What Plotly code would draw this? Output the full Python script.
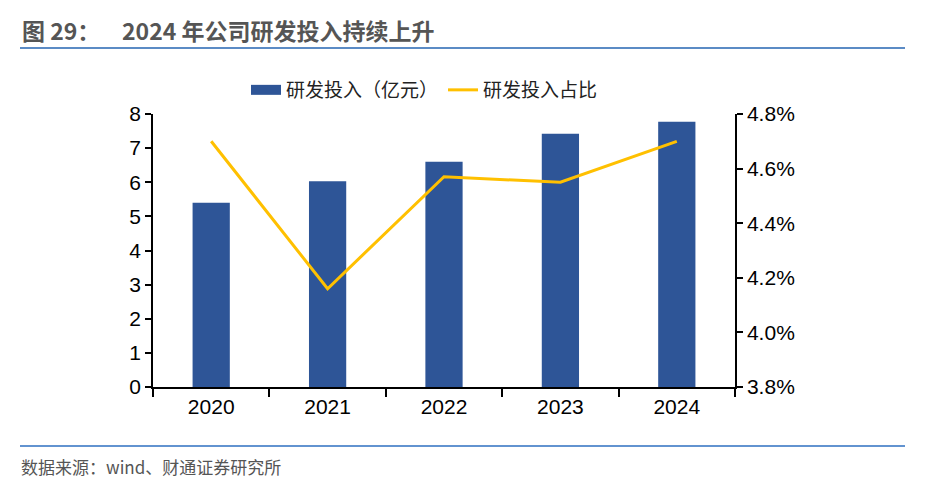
import plotly.graph_objects as go

years = ["2020", "2021", "2022", "2023", "2024"]
rd_spend = [5.40, 6.03, 6.60, 7.42, 7.77]
rd_ratio = [4.70, 4.16, 4.57, 4.55, 4.70]
y2_ticks = [3.8, 4.0, 4.2, 4.4, 4.6, 4.8]
y2_labels = ["3.8%", "4.0%", "4.2%", "4.4%", "4.6%", "4.8%"]

BLUE = "#2E5597"
YELLOW = "#FFC000"

fig = go.Figure()
fig.add_trace(go.Bar(x=years, y=rd_spend, name="研发投入（亿元）", showlegend=False,
                     marker=dict(color=BLUE, line=dict(width=0)), width=0.32, yaxis="y"))
# legend-only entry drawn as a wide rectangle swatch
fig.add_trace(go.Scatter(x=[None], y=[None], name="研发投入（亿元）", mode="lines",
                         line=dict(color=BLUE, width=14), yaxis="y"))
fig.add_trace(go.Scatter(x=years, y=rd_ratio, name="研发投入占比", mode="lines",
                         line=dict(color=YELLOW, width=3), yaxis="y2"))

# plot area in screen pixels (page has an 8px body margin)
PL, PR, PT, PB = 153, 735, 114, 387
PW, PH = PR - PL, PB - PT
def px(x):
    return (x - PL) / PW
def py(y):
    return (PB - y) / PH

tickfont = dict(family="Liberation Sans, Arial", size=21, color="#000")
fig.update_layout(
    width=937, height=485,
    margin=dict(l=PL - 8, r=937 - (PR - 8), t=PT - 8, b=485 - (PB - 8)),
    paper_bgcolor="white", plot_bgcolor="white",
    showlegend=True,
    legend=dict(orientation="h", x=px(246), xanchor="left", y=py(90), yanchor="middle",
                font=dict(family="Noto Sans CJK SC", size=19, color="#222"),
                traceorder="normal", bgcolor="rgba(0,0,0,0)"),
    xaxis=dict(showline=True, linecolor="#000", linewidth=1.5, ticks="outside",
               tickson="boundaries", ticklen=8, tickcolor="#000", tickwidth=1.5,
               tickfont=tickfont, showgrid=False),
    yaxis=dict(range=[0, 8], dtick=1, showline=True, linecolor="#000", linewidth=1.5,
               ticks="outside", ticklen=6, tickcolor="#000", tickwidth=1.5,
               tickfont=tickfont, showgrid=False, zeroline=False),
    yaxis2=dict(range=[3.8, 4.8], overlaying="y", side="right", tickvals=y2_ticks,
                ticktext=y2_labels, showline=True, linecolor="#000", linewidth=1.5,
                ticks="outside", ticklen=6, tickcolor="#000", tickwidth=1.5,
                tickfont=tickfont, showgrid=False, zeroline=False),
)

title_font = dict(family="Noto Sans CJK SC", size=23, color="#555")
fig.add_annotation(text="<b>图 29：</b>", xref="paper", yref="paper",
                   x=px(20), xanchor="left", y=py(30), yanchor="middle",
                   showarrow=False, font=title_font)
fig.add_annotation(text="<b>2024 年公司研发投入持续上升</b>", xref="paper", yref="paper",
                   x=px(120), xanchor="left", y=py(30), yanchor="middle",
                   showarrow=False, font=title_font)
fig.add_annotation(text="数据来源：wind、财通证券研究所", xref="paper", yref="paper",
                   x=px(19), xanchor="left", y=py(466), yanchor="middle",
                   showarrow=False, font=dict(family="Noto Sans CJK SC", size=17, color="#555"))
fig.add_shape(type="line", xref="paper", yref="paper",
              x0=px(20), x1=px(905), y0=py(48), y1=py(48),
              line=dict(color="#5B8BC5", width=2))
fig.add_shape(type="line", xref="paper", yref="paper",
              x0=px(20), x1=px(905), y0=py(446), y1=py(446),
              line=dict(color="#2E6FC0", width=1.5))

fig.write_html("out.html")
